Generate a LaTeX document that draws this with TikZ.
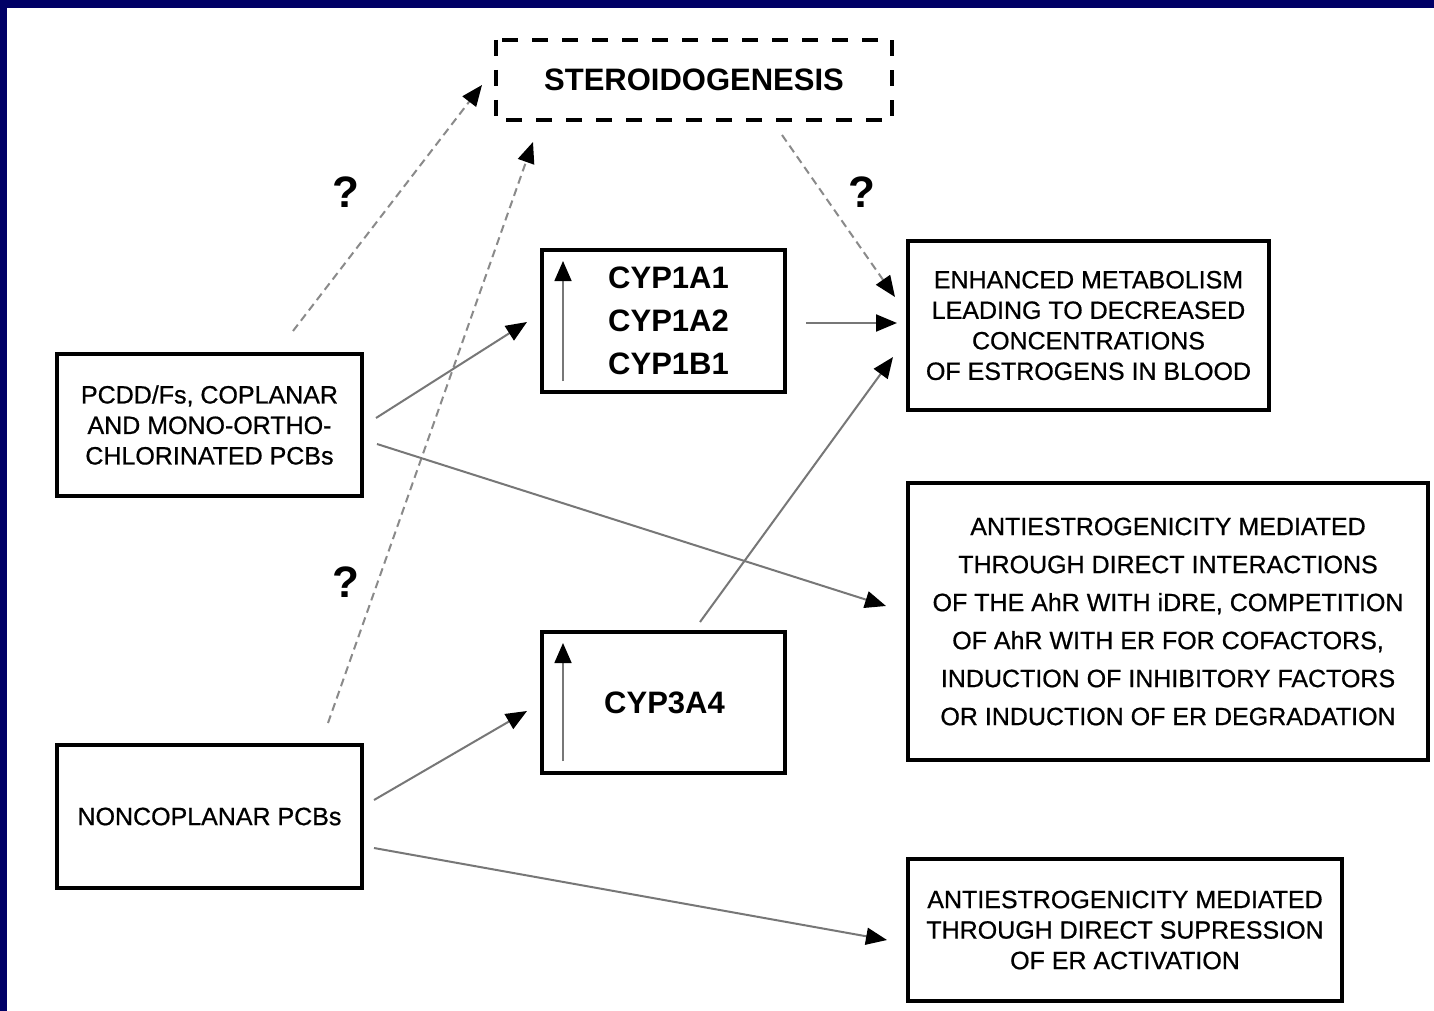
\documentclass[tikz,border=0pt]{standalone}
\usepackage{fontspec}
\setmainfont{Liberation Sans}
\newfontfamily\medfont[FakeBold=0.7]{Liberation Sans}
\usetikzlibrary{arrows.meta}
\definecolor{navy}{HTML}{000066}
\definecolor{linegray}{HTML}{777777}
\definecolor{dashgray}{HTML}{8A8A8A}
\begin{document}
\begin{tikzpicture}[x=0.5pt,y=-0.5pt,
  box/.style={draw=black,line width=2pt,inner sep=0pt,align=center,
    font=\fontsize{12.5pt}{15.25pt}\medfont},
  cypbox/.style={box,font=\fontsize{15.5pt}{21.5pt}\selectfont\bfseries},
  qmark/.style={inner sep=0pt,font=\fontsize{22pt}{24pt}\selectfont\bfseries},
  conn/.style={draw=linegray,line width=1pt,-{Triangle[length=10.5pt,width=8.5pt,black]}},
  dconn/.style={draw=dashgray,line width=1pt,dash pattern=on 4pt off 2.5pt,
    -{Triangle[length=10.5pt,width=8.5pt,black]}},
  uparrow/.style={draw=linegray,line width=0.8pt,-{Triangle[length=10pt,width=8.5pt,black]}}]
\useasboundingbox (0,0) rectangle (1434,1011);
\fill[white] (0,0) rectangle (1434,1011);
\fill[navy] (0,0) rectangle (1434,8);
\fill[navy] (0,0) rectangle (7,1011);

% boxes
\node[box,draw=none,minimum width=196pt,minimum height=38pt,
  font=\fontsize{15.5pt}{18pt}\selectfont\bfseries] (steroid) at (694,80) {STEROIDOGENESIS};
\draw[line width=2pt,dash pattern=on 8pt off 7pt] (steroid.north west) rectangle (steroid.south east);

\node[cypbox,minimum width=121.5pt,minimum height=71pt] (cyp1) at (663.5,321)
  {\hspace*{5pt}CYP1A1\\\hspace*{5pt}CYP1A2\\\hspace*{5pt}CYP1B1};
\node[cypbox,minimum width=121.5pt,minimum height=70.5pt] (cyp3) at (663.5,702.5)
  {\hspace*{1pt}CYP3A4};

\node[box,minimum width=152.5pt,minimum height=71pt] (pcdd) at (209.5,425)
  {PCDD/Fs, COPLANAR\\AND MONO-ORTHO-\\CHLORINATED PCBs};
\node[box,minimum width=152.5pt,minimum height=71.5pt] (nonco) at (209.5,816.5)
  {NONCOPLANAR PCBs};

\node[box,minimum width=180.5pt,minimum height=84.5pt] (enh) at (1088.5,325.5)
  {ENHANCED METABOLISM\\LEADING TO DECREASED\\CONCENTRATIONS\\OF ESTROGENS IN BLOOD};
\node[box,minimum width=260pt,minimum height=138.5pt,
  font=\fontsize{12.5pt}{19pt}\medfont] (anti) at (1168,621.5)
  {ANTIESTROGENICITY MEDIATED\\THROUGH DIRECT INTERACTIONS\\OF THE AhR WITH iDRE, COMPETITION\\OF AhR WITH ER FOR COFACTORS,\\INDUCTION OF INHIBITORY FACTORS\\OR INDUCTION OF ER DEGRADATION};
\node[box,minimum width=217pt,minimum height=71pt] (supp) at (1125,930)
  {ANTIESTROGENICITY MEDIATED\\THROUGH DIRECT SUPRESSION\\OF ER ACTIVATION};

% question marks
\node[qmark] (q1) at (346,192) {?};
\node[qmark] (q2) at (862,192) {?};
\node[qmark] (q3) at (346,582) {?};

% connector end points
\coordinate (d1s) at (293,331);  \coordinate (d1e) at (482,85);
\coordinate (d2s) at (328,723);  \coordinate (d2e) at (533,142);
\coordinate (d3s) at (782,135);  \coordinate (d3e) at (895,297);
\coordinate (c4s) at (376,418);  \coordinate (c4e) at (527,322);
\coordinate (c5s) at (377,444);  \coordinate (c5e) at (886,606);
\coordinate (c6s) at (806,323);  \coordinate (c6e) at (897,323);
\coordinate (c7s) at (700,622);  \coordinate (c7e) at (893,357);
\coordinate (c8s) at (374,800);  \coordinate (c8e) at (527,711);
\coordinate (c9s) at (374,848);  \coordinate (c9e) at (887,940);
\coordinate (u1s) at (563,381);  \coordinate (u1e) at (563,261);
\coordinate (u3s) at (563,761);  \coordinate (u3e) at (563,643);

\draw[dconn] (d1s) -- (d1e);
\draw[dconn] (d2s) -- (d2e);
\draw[dconn] (d3s) -- (d3e);
\draw[conn] (c4s) -- (c4e);
\draw[conn] (c5s) -- (c5e);
\draw[conn] (c6s) -- (c6e);
\draw[conn] (c7s) -- (c7e);
\draw[conn] (c8s) -- (c8e);
\draw[conn] (c9s) -- (c9e);
\draw[uparrow] (u1s) -- (u1e);
\draw[uparrow] (u3s) -- (u3e);
\end{tikzpicture}
\end{document}
